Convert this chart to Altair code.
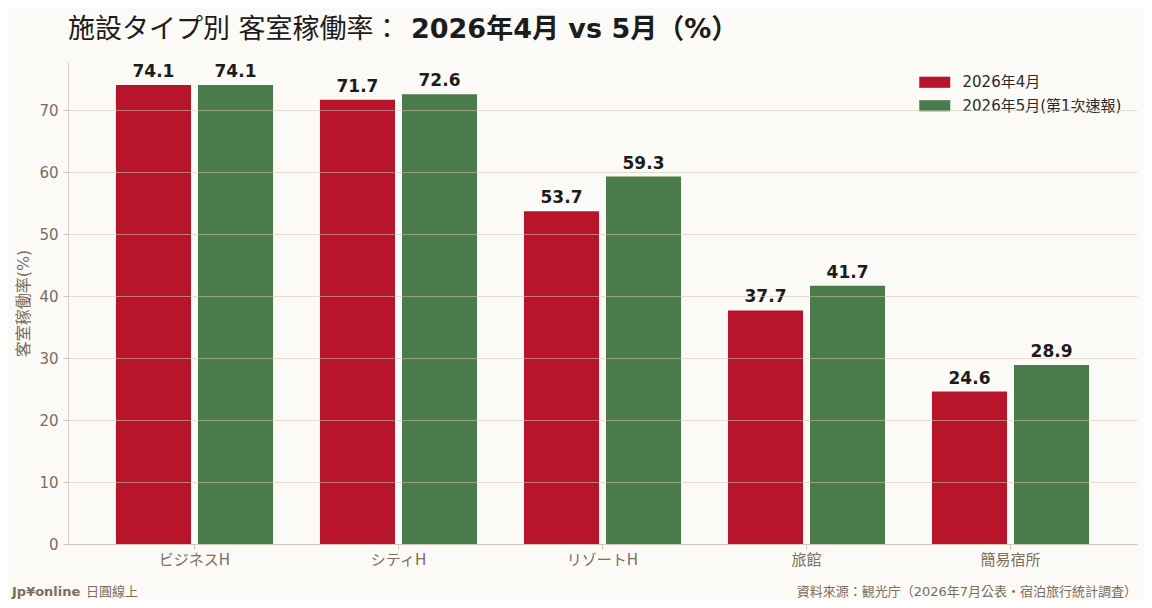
import pandas as pd
import altair as alt

### chart values

categories = ["ビジネスH", "シティH", "リゾートH", "旅館", "簡易宿所"]
series_names = ["2026年4月", "2026年5月(第1次速報)"]
april_values = [74.1, 71.7, 53.7, 37.7, 24.6]
may_values = [74.1, 72.6, 59.3, 41.7, 28.9]
y_ticks = [0, 10, 20, 30, 40, 50, 60, 70]

title_plain = "施設タイプ別 客室稼働率："
title_bold = "2026年4月 vs 5月（%）"
y_title = "客室稼働率(%)"
footer_brand = "Jp¥online"
footer_brand_sub = "日圓線上"
footer_source = "資料來源：観光庁（2026年7月公表・宿泊旅行統計調査）"

### long table for the bars

rows = []
for i, cat in enumerate(categories):
    rows.append({"cat": cat, "series": series_names[0], "value": april_values[i]})
    rows.append({"cat": cat, "series": series_names[1], "value": may_values[i]})
df = pd.DataFrame(rows)

FONT = "DejaVu Sans, Noto Sans CJK TC"
RED = "#B8152D"
GREEN = "#4A7B4B"
MUTED = "#7A6E5E"
DARK = "#1C1C1C"

x_enc = alt.X("cat:N", sort=categories, title=None,
              scale=alt.Scale(paddingInner=0.23, paddingOuter=0.235),
              axis=alt.Axis(labelAngle=0, labelFontSize=15, labelColor=MUTED,
                            labelFont=FONT, labelPadding=3, tickSize=5,
                            tickColor="#CFC6B4", domainColor="#D6CDBD"))
xoff_enc = alt.XOffset("series:N", sort=series_names,
                       scale=alt.Scale(paddingInner=0.085, paddingOuter=0))
y_enc = alt.Y("value:Q", title=y_title,
              scale=alt.Scale(domain=[0, 77.8], nice=False),
              axis=alt.Axis(values=y_ticks, labelFontSize=15, labelColor=MUTED,
                            labelFont=FONT, labelPadding=5, tickSize=5,
                            tickColor="#CFC6B4", domainColor="#D6CDBD",
                            grid=True, gridColor="#CFC6B4", gridOpacity=0.55,
                            titleFont=FONT, titleFontSize=16, titleColor=MUTED,
                            titleFontWeight="normal", titlePadding=7, zindex=1))

base = alt.Chart(df)

### legend swatch: wide rectangle drawn past the nominal symbol box
bars = base.mark_bar().encode(
    x=x_enc,
    xOffset=xoff_enc,
    y=y_enc,
    color=alt.Color("series:N", sort=series_names,
                    scale=alt.Scale(domain=series_names, range=[RED, GREEN]),
                    legend=alt.Legend(title=None, orient="none", legendX=858.75, legendY=12.25,
                                      symbolType="M-2,-0.72L2,-0.72L2,0.72L-2,0.72Z",
                                      symbolSize=240, symbolStrokeWidth=0,
                                      symbolOpacity=1, labelFontSize=15,
                                      labelFont=FONT, labelColor="#2A2A2A",
                                      labelOffset=19.75, rowPadding=7.5, padding=0)),
)

labels = base.mark_text(baseline="alphabetic", dy=-8, fontSize=17,
                        fontWeight="bold", font=FONT, color=DARK).encode(
    x=alt.X("cat:N", sort=categories),
    xOffset=alt.XOffset("series:N", sort=series_names),
    y="value:Q",
    text=alt.Text("value:Q", format=".1f"),
)

### title and footer texts

one = pd.DataFrame({"k": [0]})

t1 = alt.Chart(one).mark_text(text=title_plain, align="left", baseline="alphabetic",
                              fontSize=27, font=FONT, color=DARK).encode(
    x=alt.value(0), y=alt.value(-24))
t2 = alt.Chart(one).mark_text(text=title_bold, align="left", baseline="alphabetic",
                              fontSize=27, fontWeight="bold", font=FONT, color=DARK).encode(
    x=alt.value(343), y=alt.value(-24))
f1 = alt.Chart(one).mark_text(text=footer_brand, align="left", baseline="alphabetic",
                              fontSize=13, fontWeight="bold", font=FONT, color=MUTED).encode(
    x=alt.value(-56), y=alt.value(534))
f2 = alt.Chart(one).mark_text(text=footer_brand_sub, align="left", baseline="alphabetic",
                              fontSize=13, font=FONT, color=MUTED).encode(
    x=alt.value(18), y=alt.value(534))
f3 = alt.Chart(one).mark_text(text=footer_source, align="right", baseline="alphabetic",
                              fontSize=13, font=FONT, color=MUTED).encode(
    x=alt.value(1069), y=alt.value(534))

chart = (
    alt.layer(bars, labels, t1, t2, f1, f2, f3)
    .properties(width=1069, height=482,
                autosize=alt.AutoSizeParams(type="none"),
                padding={"left": 60, "top": 54, "right": 7, "bottom": 56},
                background="#FBFAF6")
    .configure_view(stroke=None)
)

chart.save("out.html", embed_options={"renderer": "svg", "actions": False})
